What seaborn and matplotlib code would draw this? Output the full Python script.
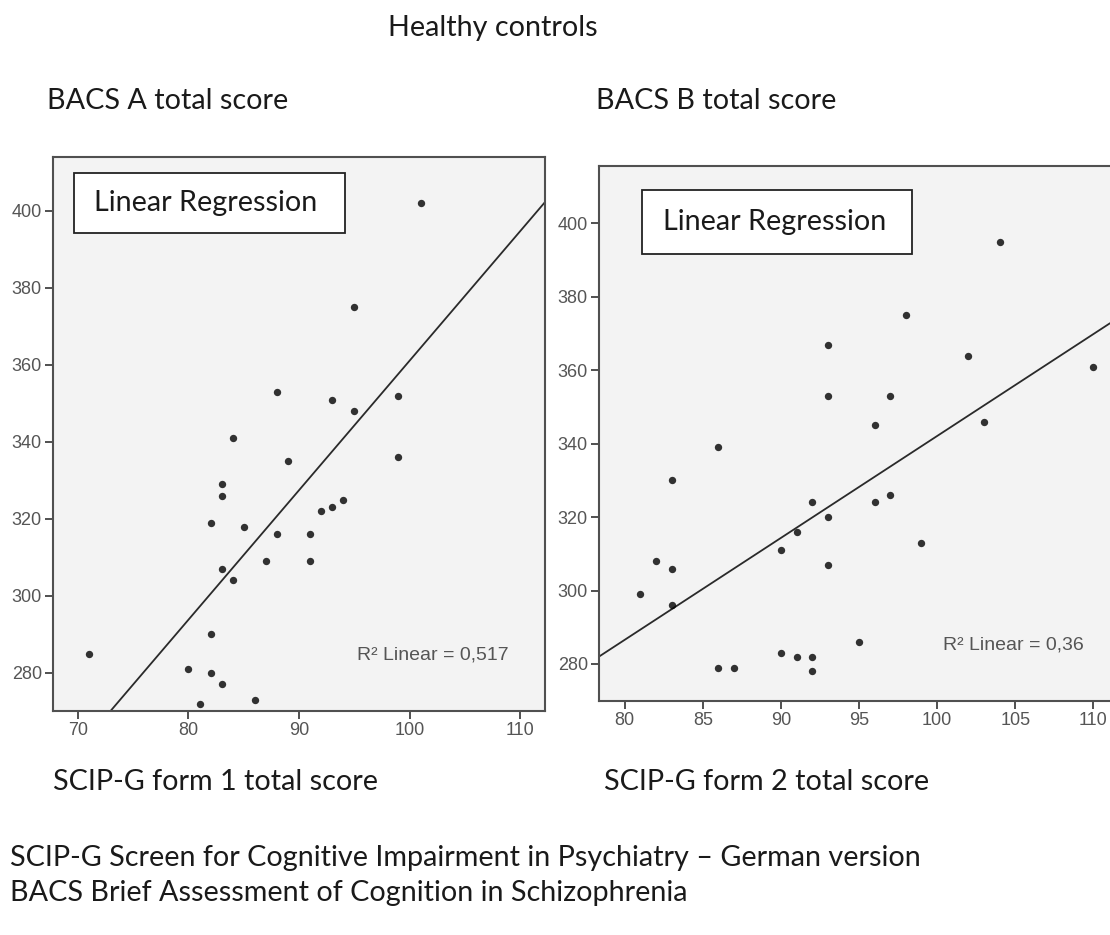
import matplotlib
matplotlib.use("Agg")
import matplotlib.pyplot as plt
import seaborn as sns
import pandas as pd
from matplotlib.patches import Rectangle

# ---- data: left panel (SCIP-G form 1 vs BACS A) ----
scip1 = [101, 95, 88, 93, 99, 95, 84, 89, 99, 83, 83, 94, 93, 92, 82,
         85, 88, 91, 87, 91, 83, 84, 82, 71, 80, 82, 83, 86, 81]
bacs_a = [402, 375, 353, 351, 352, 348, 341, 335, 336, 329, 326, 325, 323, 322, 319,
          318, 316, 316, 309, 309, 307, 304, 290, 285, 281, 280, 277, 273, 272]

# ---- data: right panel (SCIP-G form 2 vs BACS B) ----
scip2 = [104, 98, 93, 102, 110, 93, 97, 96, 103, 86, 83, 92, 96, 97, 93,
         91, 90, 99, 82, 83, 93, 81, 83, 95, 90, 91, 92, 86, 87, 92]
bacs_b = [395, 375, 367, 364, 361, 353, 353, 345, 346, 339, 330, 324, 324, 326, 320,
          316, 311, 313, 308, 306, 307, 299, 296, 286, 283, 282, 282, 279, 279, 278]

yticks = [280, 300, 320, 340, 360, 380, 400]
xticks_left = [70, 80, 90, 100, 110]
xticks_right = [80, 85, 90, 95, 100, 105, 110]

title = "Healthy controls"
ylabels = ["BACS A total score", "BACS B total score"]
xlabels = ["SCIP-G form 1 total score", "SCIP-G form 2 total score"]
r2_texts = ["R\u00b2 Linear = 0,517", "R\u00b2 Linear = 0,36"]
footnotes = ["SCIP-G Screen for Cognitive Impairment in Psychiatry \u2013 German version",
             "BACS Brief Assessment of Cognition in Schizophrenia"]

df1 = pd.DataFrame({"x": scip1, "y": bacs_a})
df2 = pd.DataFrame({"x": scip2, "y": bacs_b})

sns.set_style("white")
plt.rcParams["font.family"] = ["Liberation Sans", "DejaVu Sans"]

W, H = 1110, 935
fig = plt.figure(figsize=(W / 100, H / 100), dpi=100)

def fr(x0, y0, x1, y1):
    return [x0 / W, 1 - y1 / H, (x1 - x0) / W, (y1 - y0) / H]

axL = fig.add_axes(fr(53, 157, 545, 711))
axR = fig.add_axes(fr(599, 165.5, 1110, 700.7))

TXT = ["Lato", "DejaVu Sans"]
spine_c = "#505050"
tick_c = "#555555"
FS = 20.7

panels = [
    (axL, df1, (67.74, 112.26), (270.1, 414.0), xticks_left, r2_texts[0],
     (0.0427, 0.863, 0.551, 0.108), (0.0833, 0.917), (0.618, 0.101), True),
    (axR, df2, (78.35, 111.07), (270.0, 415.8), xticks_right, r2_texts[1],
     (0.0851, 0.835, 0.5266, 0.120), (0.125, 0.895), (0.673, 0.104), False),
]

for ax, df, xl, yl, xt, r2, box, boxtxt, r2pos, right_spine in panels:
    ax.set_facecolor("#f3f3f3")
    ax.set_xlim(*xl)
    ax.set_ylim(*yl)
    sns.regplot(data=df, x="x", y="y", ax=ax, ci=None, truncate=False,
                scatter_kws=dict(s=28, color="black", linewidths=0, zorder=3),
                line_kws=dict(color="#2a2a2a", lw=1.3, zorder=2))
    ax.set_xlim(*xl)
    ax.set_ylim(*yl)
    ax.set_xticks(xt)
    ax.set_yticks(yticks)
    ax.set_xlabel("")
    ax.set_ylabel("")
    ax.tick_params(direction="out", length=6, width=1.4, color=spine_c,
                   labelcolor=tick_c, labelsize=13, pad=2,
                   bottom=True, left=True)
    for side in ["left", "bottom", "top", "right"]:
        ax.spines[side].set_color(spine_c)
        ax.spines[side].set_linewidth(1.5)
    ax.spines["right"].set_visible(right_spine)
    ax.add_patch(Rectangle((box[0], box[1]), box[2], box[3], transform=ax.transAxes,
                           facecolor="white", edgecolor="#222222", lw=1.3, zorder=4))
    ax.text(boxtxt[0], boxtxt[1], "Linear Regression", transform=ax.transAxes,
            ha="left", va="center", fontsize=FS, family=TXT, color="#1a1a1a", zorder=5)
    ax.text(r2pos[0], r2pos[1], r2, transform=ax.transAxes, ha="left", va="center",
            fontsize=14, color=tick_c, zorder=5)

def ftxt(x, y, s, ha="left"):
    fig.text(x / W, 1 - y / H, s, ha=ha, va="center", fontsize=FS, family=TXT,
             color="#1a1a1a")

ftxt(493, 28, title, ha="center")
ftxt(47, 101, ylabels[0])
ftxt(596, 101, ylabels[1])
ftxt(53, 782, xlabels[0])
ftxt(604, 782, xlabels[1])
ftxt(10, 858, footnotes[0])
ftxt(10, 893, footnotes[1])

fig.savefig("out.png", dpi=100, facecolor="white")
